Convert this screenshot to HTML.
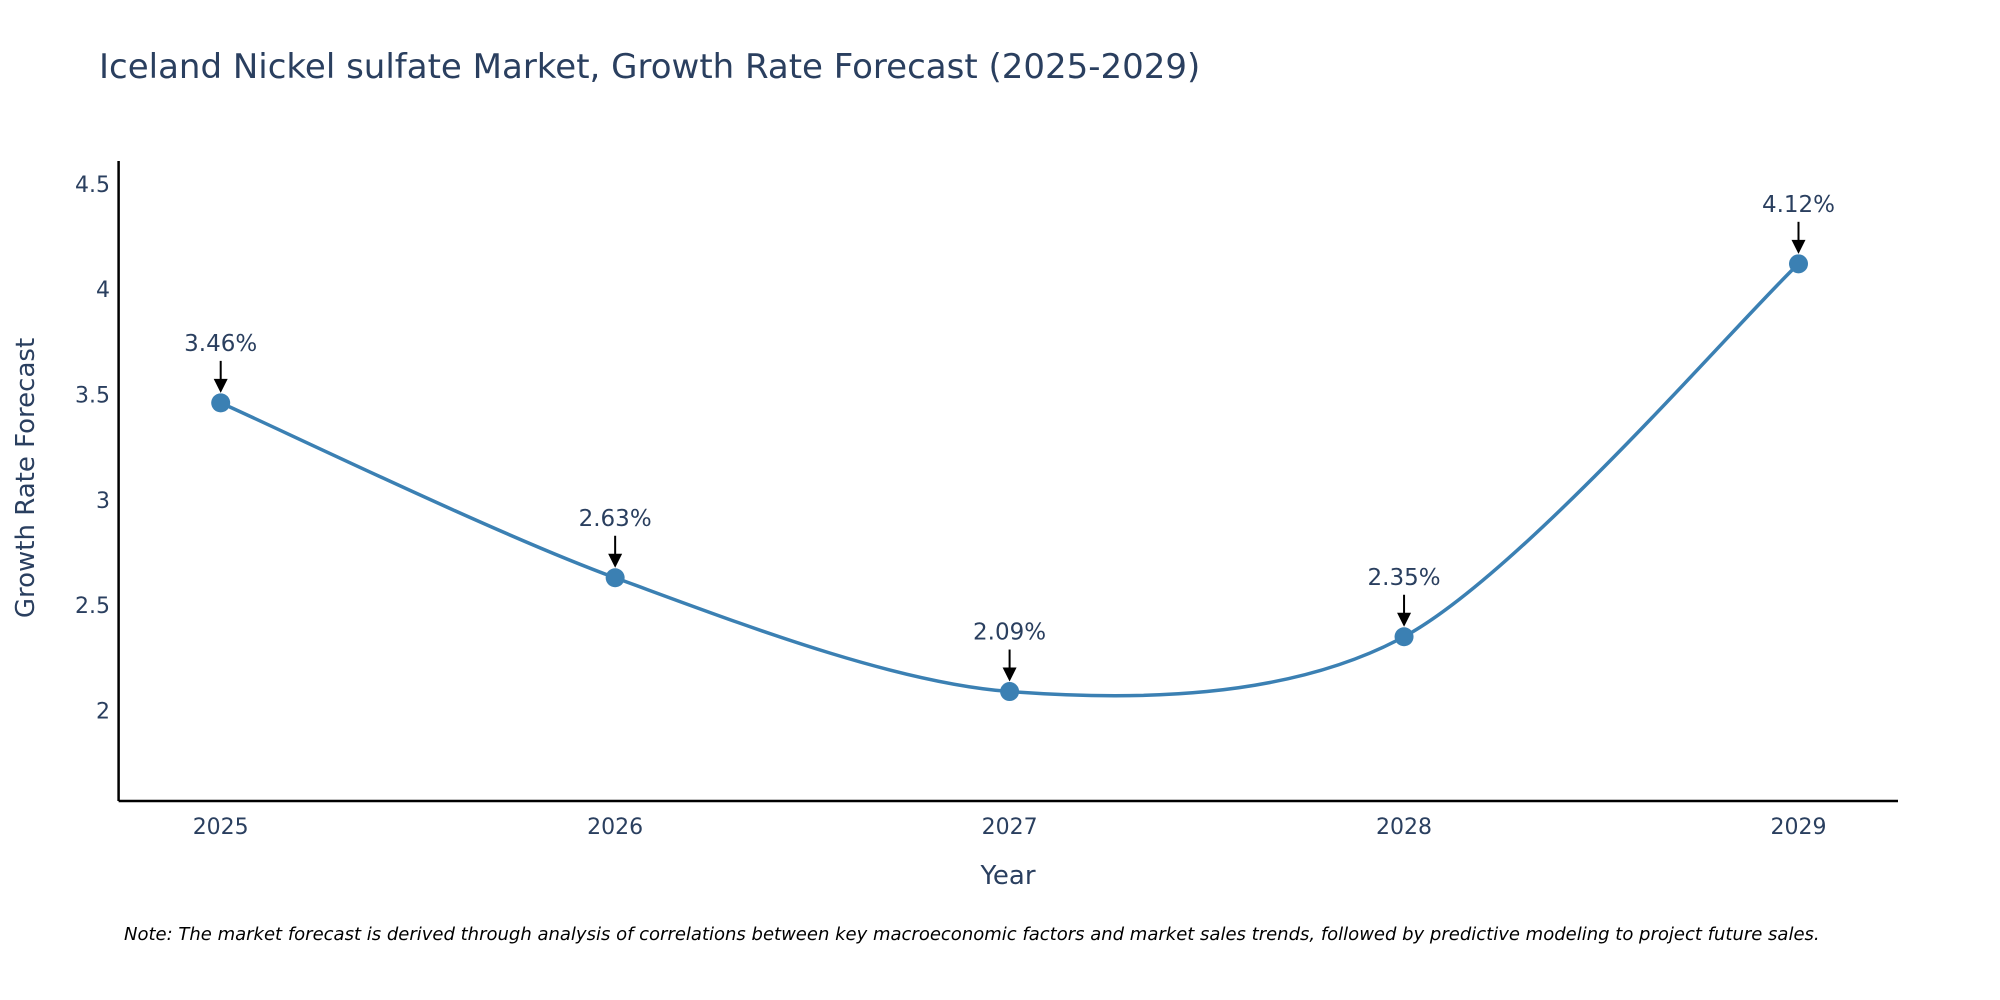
<!DOCTYPE html>
<html><head><meta charset="utf-8"><style>
html,body{margin:0;padding:0;background:#fff;}
svg{display:block;font-family:"DejaVu Sans","Liberation Sans",sans-serif;}
</style></head><body>
<svg id="chart" width="2000" height="1000">
<text x="99" y="78" font-size="34" fill="#2a3f5f">Iceland Nickel sulfate Market, Growth Rate Forecast (2025-2029)</text>
<g id="yticks"></g>
<g id="xticks"></g>
<path id="line" fill="none" stroke="#3b80b3" stroke-width="3.5"/>
<g id="points"></g>
<g id="annots"></g>
<line x1="118.6" y1="161" x2="118.6" y2="801" stroke="#000" stroke-width="2.5"/>
<line x1="118.6" y1="801" x2="1898" y2="801" stroke="#000" stroke-width="2.5"/>
<text x="1008" y="884" font-size="26" fill="#2a3f5f" text-anchor="middle">Year</text>
<text transform="translate(34,478) rotate(-90)" font-size="26" fill="#2a3f5f" text-anchor="middle">Growth Rate Forecast</text>
<text x="124" y="940" font-size="18" font-style="italic" fill="#000">Note: The market forecast is derived through analysis of correlations between key macroeconomic factors and market sales trends, followed by predictive modeling to project future sales.</text>
</svg>
<script>
const years=[2025,2026,2027,2028,2029];
const values=[3.46,2.63,2.09,2.35,4.12];
const labels=["3.46%","2.63%","2.09%","2.35%","4.12%"];
const yTicks=[2,2.5,3,3.5,4,4.5];
const yTickLabels=["2","2.5","3","3.5","4","4.5"];
const NS="http://www.w3.org/2000/svg";
function X(v){return 220.7+(v-2025)*(1798.5-220.7)/4;}
function Y(v){return 710.5-(v-2)*210.7;}
function mk(t,a,p){const e=document.createElementNS(NS,t);for(const k in a)e.setAttribute(k,a[k]);p.appendChild(e);return e;}
const yt=document.getElementById('yticks');
yTicks.forEach((v,i)=>{const t=mk('text',{x:110,y:Y(v)+8,'font-size':22,fill:'#2a3f5f','text-anchor':'end'},yt);


t.textContent=yTickLabels[i];});
const xt=document.getElementById('xticks');
years.forEach(v=>{const t=mk('text',{x:X(v),y:834,'font-size':22,fill:'#2a3f5f','text-anchor':'middle'},xt);


t.textContent=v;});
const P=years.map((y,i)=>[X(y),Y(values[i])]);
let d="M"+P[0][0]+","+P[0][1];const s=0.15;
for(let i=0;i<P.length-1;i++){const p0=P[Math.max(0,i-1)],p1=P[i],p2=P[i+1],p3=P[Math.min(P.length-1,i+2)];
d+=" C"+(p1[0]+(p2[0]-p0[0])*s)+","+(p1[1]+(p2[1]-p0[1])*s)+" "+(p2[0]-(p3[0]-p1[0])*s)+","+(p2[1]-(p3[1]-p1[1])*s)+" "+p2[0]+","+p2[1];}
document.getElementById('line').setAttribute('d',d);
const pts=document.getElementById('points'),an=document.getElementById('annots');
P.forEach((p,i)=>{const c=mk('circle',{cx:p[0],cy:p[1],r:9.5,fill:'#3b80b3'},pts);


const l=mk('line',{x1:p[0],y1:p[1]-42,x2:p[0],y2:p[1]-22,stroke:'#000','stroke-width':2},an);


const h=mk('polygon',{points:(p[0]-7)+","+(p[1]-24)+" "+(p[0]+7)+","+(p[1]-24)+" "+p[0]+","+(p[1]-10),fill:'#000'},an);


const t=mk('text',{x:p[0],y:p[1]-52,'font-size':23,fill:'#2a3f5f','text-anchor':'middle'},an);


t.textContent=labels[i];});
</script>
</body></html>
